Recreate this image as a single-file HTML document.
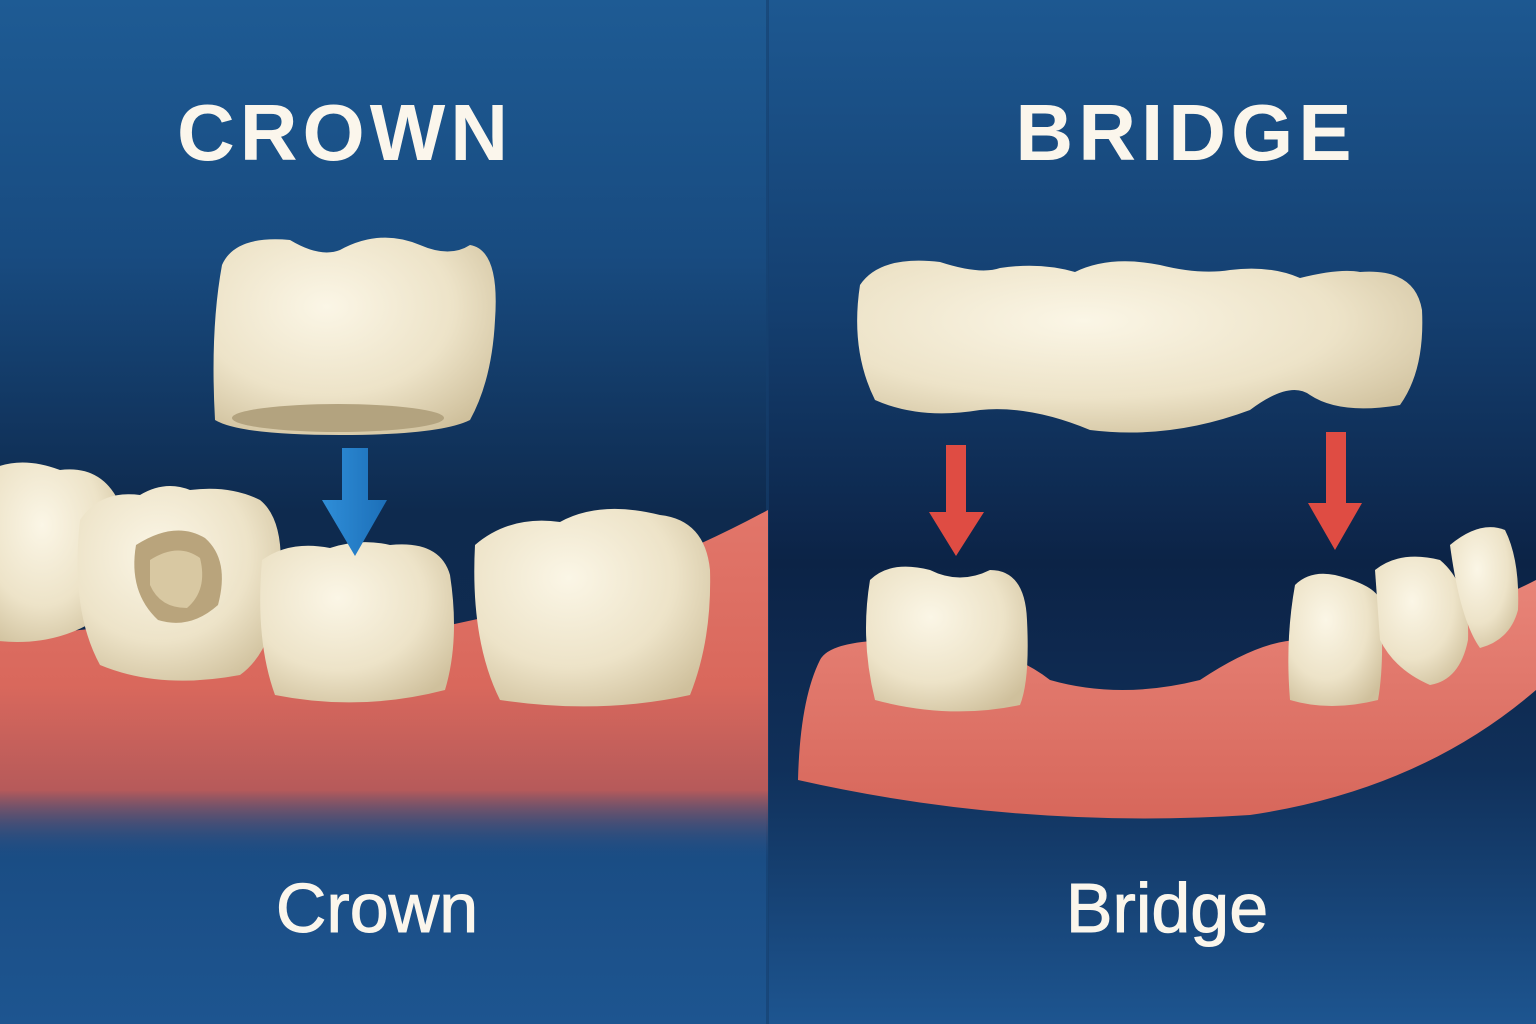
<!DOCTYPE html>
<html><head><meta charset="utf-8"><style>
html,body{margin:0;padding:0;width:1536px;height:1024px;overflow:hidden;background:#123463}
svg{display:block}
text{font-family:"Liberation Sans","DejaVu Sans",sans-serif;fill:#fbf6ec}
</style></head><body>
<svg width="1536" height="1024" viewBox="0 0 1536 1024">
<defs>
<linearGradient id="bg" x1="0" y1="0" x2="0" y2="1">
<stop offset="0" stop-color="#1e5b94"/><stop offset="0.25" stop-color="#184b80"/>
<stop offset="0.5" stop-color="#0e2a4e"/><stop offset="0.62" stop-color="#0f2b50"/>
<stop offset="0.82" stop-color="#1a4c83"/><stop offset="1" stop-color="#1d5590"/>
</linearGradient>
<linearGradient id="bgR" x1="0" y1="0" x2="0" y2="1">
<stop offset="0" stop-color="#1d5891"/><stop offset="0.3" stop-color="#143f70"/>
<stop offset="0.55" stop-color="#0c2346"/><stop offset="0.75" stop-color="#10305a"/>
<stop offset="1" stop-color="#1d5590"/>
</linearGradient>
<linearGradient id="gumL" x1="0" y1="0" x2="0" y2="1">
<stop offset="0" stop-color="#e2766a"/><stop offset="0.5" stop-color="#d9685c"/>
<stop offset="0.8" stop-color="#b65a5a"/><stop offset="1" stop-color="#1c4c85" stop-opacity="0"/>
</linearGradient>
<linearGradient id="gumR" x1="0" y1="0" x2="0" y2="1">
<stop offset="0" stop-color="#e88478"/><stop offset="1" stop-color="#d7675b"/>
</linearGradient>
<radialGradient id="tooth" cx="0.4" cy="0.35" r="0.75">
<stop offset="0" stop-color="#fbf6e6"/><stop offset="0.6" stop-color="#ede3c8"/><stop offset="1" stop-color="#cfc09c"/>
</radialGradient>
<linearGradient id="blueArrow" x1="0" y1="0" x2="1" y2="0">
<stop offset="0" stop-color="#2f8ed8"/><stop offset="1" stop-color="#1c6fb8"/>
</linearGradient>
</defs>
<rect x="0" y="0" width="768" height="1024" fill="url(#bg)"/>
<rect x="768" y="0" width="768" height="1024" fill="url(#bgR)"/>
<rect x="766" y="0" width="3" height="1024" fill="#163f6e" opacity="0.6"/>

<path d="M0 640 Q200 610 450 625 Q620 590 768 510 L768 860 L0 860 Z" fill="url(#gumL)"/>
<path d="M-10 470 Q20 455 60 470 Q100 465 118 500 Q125 560 110 610 Q60 650 -10 640 Z" fill="url(#tooth)"/>
<path d="M80 520 Q100 490 140 495 Q165 480 190 490 Q230 485 260 500 Q285 520 280 580 Q275 650 240 675 Q160 690 100 665 Q70 610 80 520 Z" fill="url(#tooth)"/>
<path d="M136 545 Q175 520 205 538 Q230 560 218 605 Q190 630 158 620 Q128 592 136 545 Z" fill="#b9a47c"/>
<path d="M150 560 Q178 542 200 558 Q208 590 187 608 Q160 608 150 585 Z" fill="#d8c8a2"/>
<path d="M262 560 Q290 540 330 548 Q360 538 390 545 Q440 540 450 575 Q460 640 445 690 Q360 712 275 695 Q255 640 262 560 Z" fill="url(#tooth)"/>
<path d="M475 545 Q510 515 560 522 Q600 500 660 515 Q705 520 710 570 Q712 640 690 695 Q600 715 500 700 Q470 640 475 545 Z" fill="url(#tooth)"/>
<path d="M222 265 Q235 235 290 240 Q320 258 340 250 Q380 228 420 245 Q450 258 470 245 Q500 250 495 320 Q492 380 470 420 Q440 435 340 435 Q240 435 215 420 Q210 330 222 265 Z" fill="url(#tooth)"/>
<ellipse cx="338" cy="418" rx="106" ry="14" fill="#b3a37f"/>
<path d="M342 448 L368 448 L368 500 L387 500 L355 556 L322 500 L342 500 Z" fill="url(#blueArrow)"/>

<path d="M820 660 Q830 640 900 640 Q1000 640 1050 680 Q1120 700 1200 680 Q1260 640 1300 640 Q1420 640 1536 580 L1536 690 Q1420 790 1250 815 Q1020 830 798 780 Q800 700 820 660 Z" fill="url(#gumR)"/>
<path d="M870 580 Q890 560 930 570 Q960 585 990 570 Q1025 570 1027 620 Q1030 680 1020 705 Q950 720 875 700 Q860 640 870 580 Z" fill="url(#tooth)"/>
<path d="M1295 585 Q1310 570 1335 575 Q1375 585 1380 600 Q1385 660 1378 700 Q1330 712 1290 700 Q1285 640 1295 585 Z" fill="url(#tooth)"/>
<path d="M1375 570 Q1400 550 1440 560 Q1470 585 1468 640 Q1460 680 1430 685 Q1395 670 1380 640 Z" fill="url(#tooth)"/>
<path d="M1450 545 Q1480 520 1505 530 Q1520 560 1518 610 Q1510 640 1480 648 Q1460 620 1450 545 Z" fill="url(#tooth)"/>
<path d="M860 285 Q880 255 940 262 Q980 275 1000 268 Q1040 262 1075 272 Q1110 255 1160 265 Q1200 275 1230 270 Q1270 265 1300 278 Q1340 268 1360 272 Q1415 268 1422 310 Q1425 370 1400 405 Q1340 415 1310 395 Q1290 380 1250 410 Q1170 440 1090 430 Q1030 405 980 410 Q920 420 875 400 Q850 350 860 285 Z" fill="url(#tooth)"/>
<path d="M946 445 L966 445 L966 512 L984 512 L956 556 L929 512 L946 512 Z" fill="#df4c43"/>
<path d="M1326 432 L1346 432 L1346 503 L1362 503 L1335 550 L1308 503 L1326 503 Z" fill="#df4c43"/>

<text x="345" y="160" font-size="80" font-weight="bold" text-anchor="middle" letter-spacing="5">CROWN</text>
<text x="1186" y="160" font-size="80" font-weight="bold" text-anchor="middle" letter-spacing="5">BRIDGE</text>
<text x="377" y="932" font-size="70" text-anchor="middle" stroke="#fbf6ec" stroke-width="1">Crown</text>
<text x="1167" y="932" font-size="70" text-anchor="middle" stroke="#fbf6ec" stroke-width="1">Bridge</text>
</svg>
</body></html>
